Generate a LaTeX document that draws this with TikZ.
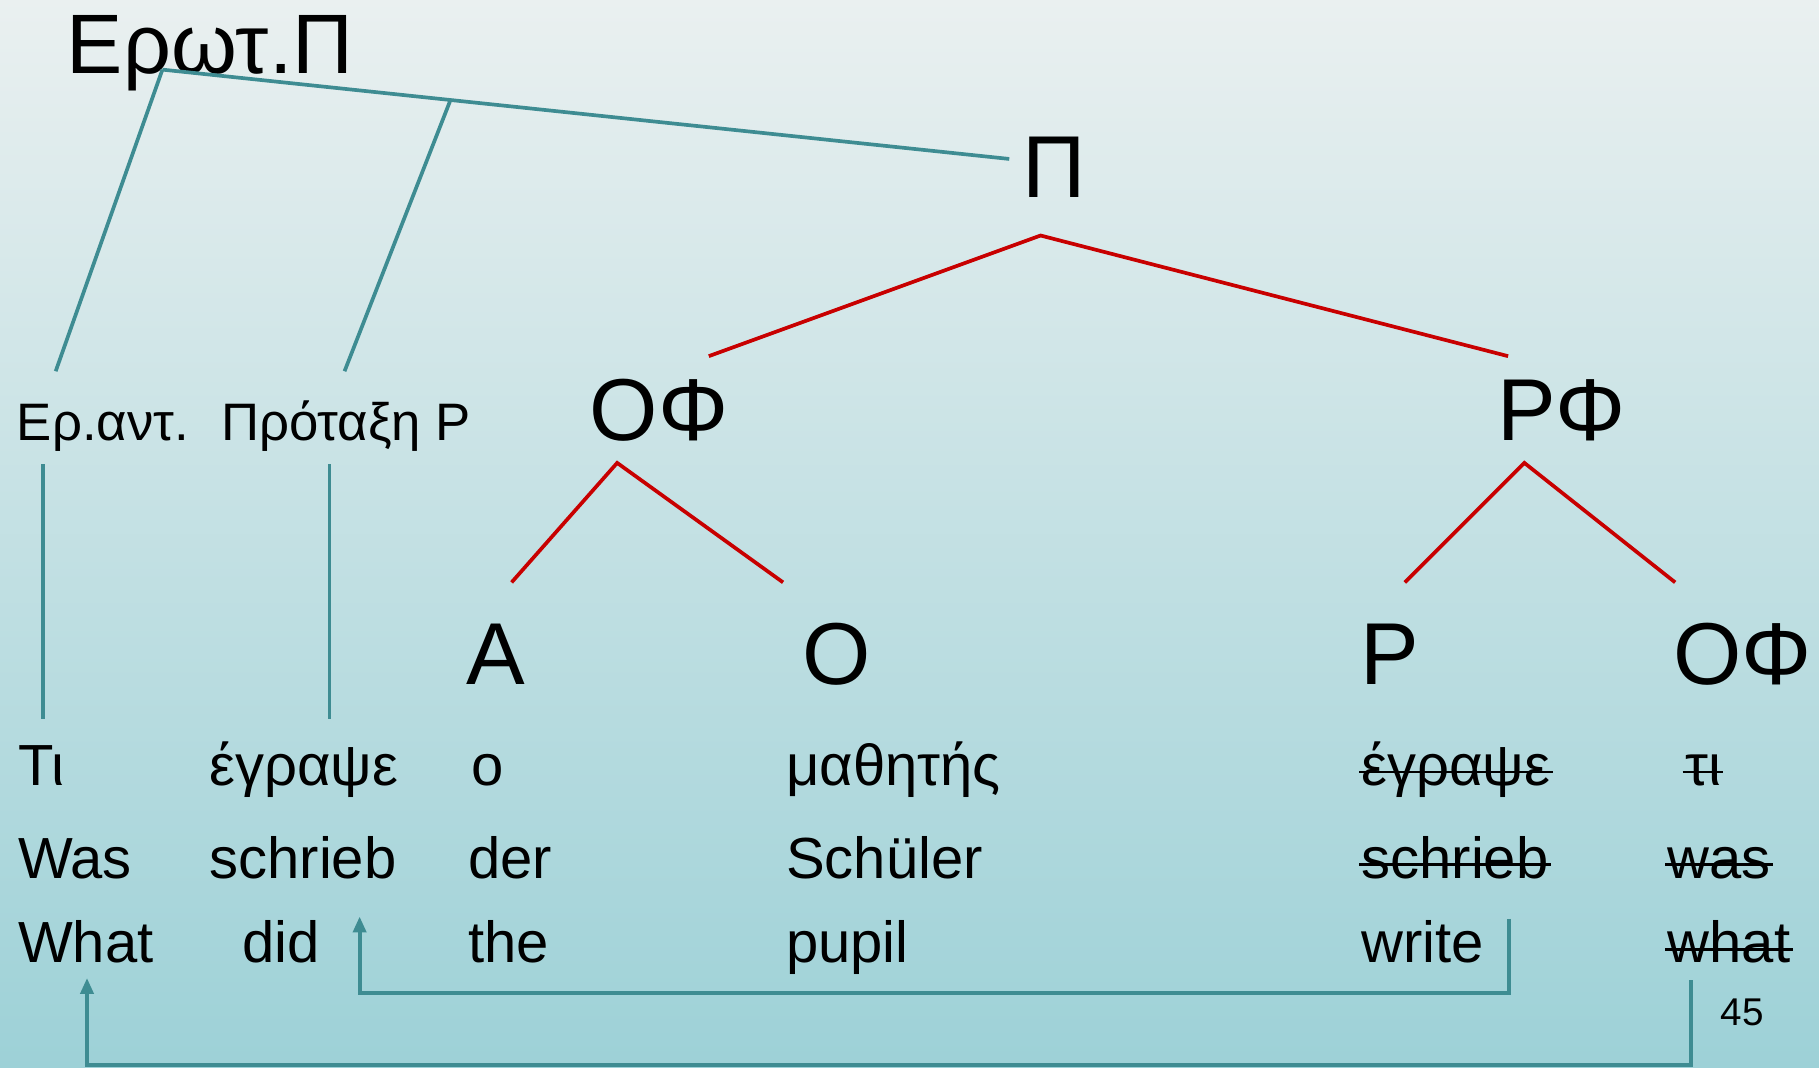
\documentclass[tikz,border=0pt]{standalone}
\usepackage{fontspec}
\setmainfont{Liberation Sans}
\usetikzlibrary{arrows.meta}
\definecolor{bgtop}{RGB}{234,240,240}
\definecolor{bgbot}{RGB}{157,209,215}
\definecolor{teal1}{RGB}{62,140,146}
\definecolor{red1}{RGB}{200,0,0}
\tikzset{
  big/.style={inner sep=0pt, anchor=base, font=\fontsize{25}{30}\selectfont},
  mid/.style={inner sep=0pt, anchor=base west, font=\fontsize{15}{18}\selectfont},
  word/.style={inner sep=0pt, anchor=base west, font=\fontsize{16.5}{20}\selectfont},
  tline/.style={draw=teal1, line width=1.05pt},
  rline/.style={draw=red1, line width=1.05pt},
  strikeline/.style={draw=black, line width=0.8pt},
  mvarrow/.style={draw=teal1, line width=1.1pt, -{Triangle[length=0.16cm,width=0.13cm]}}
}
\newcommand{\strikenode}[1]{\draw[strikeline] ([xshift=-0.5pt,yshift=3.8pt]#1.base west) -- ([xshift=0.5pt,yshift=3.8pt]#1.base east);}
\begin{document}
\begin{tikzpicture}[x=0.0116cm, y=-0.0116cm]
\shade[top color=bgtop, bottom color=bgbot] (0,0) rectangle (1568,920);
\useasboundingbox (0,0) rectangle (1568,920);

% labels
\node[inner sep=0pt, anchor=base west, font=\fontsize{24}{29}\selectfont] (EP) at (57,63) {Ερωτ.Π};
\node[big] (P0) at (909,170) {Π};
\node[big] (OF1) at (568,380) {ΟΦ};
\node[big] (RF) at (1346,380) {ΡΦ};
\node[big] (A) at (427,590) {Α};
\node[big] (O) at (721,590) {Ο};
\node[big] (R) at (1198,590) {Ρ};
\node[big] (OF2) at (1502,590) {ΟΦ};
\node[mid] (Erant) at (14,380) {Ερ.αντ.};
\node[mid] (Prot) at (190,380) {Πρόταξη Ρ};
\node[inner sep=0pt, anchor=base, font=\fontsize{11}{13}\selectfont] (pg) at (1502,884) {45};

% words
\node[word] (w11) at (15,677) {Τι};
\node[word] (w12) at (180,677) {έγραψε};
\node[word] (w13) at (406,677) {ο};
\node[word] (w14) at (677,677) {μαθητής};
\node[word] (w15) at (1173,677) {έγραψε};
\node[word] (w16) at (1452,677) {τι};
\node[word] (w21) at (15,757) {Was};
\node[word] (w22) at (180,757) {schrieb};
\node[word] (w23) at (403,757) {der};
\node[word] (w24) at (677,757) {Schüler};
\node[word] (w25) at (1173,757) {schrieb};
\node[word] (w26) at (1437,757) {was};
\node[word] (w31) at (15,830) {What};
\node[word] (w32) at (208,830) {did};
\node[word] (w33) at (403,830) {the};
\node[word] (w34) at (677,830) {pupil};
\node[word] (w35) at (1173,830) {write};
\node[word] (w36) at (1437,830) {what};

% strike-throughs
\strikenode{w15}
\strikenode{w16}
\strikenode{w25}
\strikenode{w26}
\strikenode{w36}

% connector end points
\coordinate (epB) at (140,60);
\coordinate (epM) at (388,87);
\coordinate (pL) at (870,137);
\coordinate (erT) at (48,320);
\coordinate (prT) at (297,320);
\coordinate (erB) at (37,400);
\coordinate (tiT) at (37,620);
\coordinate (prB) at (284,400);
\coordinate (egT) at (284,620);
\coordinate (pB) at (897,203);
\coordinate (of1T) at (611,307);
\coordinate (rfT) at (1300,307);
\coordinate (of1B) at (532,399);
\coordinate (aT) at (441,502);
\coordinate (oT) at (675,502);
\coordinate (rfB) at (1314,399);
\coordinate (rT) at (1211,502);
\coordinate (of2T) at (1444,502);
\coordinate (wrR) at (1301,792);
\coordinate (wrC) at (1301,856);
\coordinate (didA) at (310,790);
\coordinate (whR) at (1458,845);
\coordinate (whC) at (1458,918);
\coordinate (WhA) at (75,843);

% teal tree
\draw[tline] (epB) -- (pL);
\draw[tline] (epB) -- (erT);
\draw[tline] (epM) -- (prT);
\draw[tline] (erB) -- (tiT);
\draw[tline] (prB) -- (egT);

% red tree
\draw[rline] (of1T) -- (pB) -- (rfT);
\draw[rline] (aT) -- (of1B) -- (oT);
\draw[rline] (rT) -- (rfB) -- (of2T);

% movement arrows
\draw[mvarrow] (wrR) -- (wrC) -| (didA);
\draw[mvarrow] (whR) -- (whC) -| (WhA);
\end{tikzpicture}
\end{document}
